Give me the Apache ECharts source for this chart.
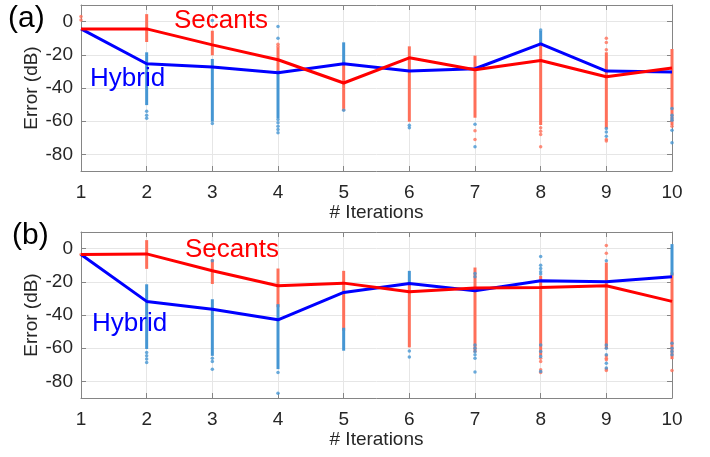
<!DOCTYPE html>
<html>
<head>
<meta charset="utf-8">
<script src="https://cdn.jsdelivr.net/npm/echarts@6/dist/echarts.min.js"></script>
<style>
  html, body { margin: 0; padding: 0; background: #ffffff; }
  #chart { width: 710px; height: 457px; }
</style>
</head>
<body>
<div id="chart"></div>
<script>
// Iteration counts on the horizontal axis
const iterations = [1, 2, 3, 4, 5, 6, 7, 8, 9, 10];

// ---- Panel (a) ----
// Mean error (dB) per iteration
const secantsMeanA = [-4.4, -4.4, -14.0, -23.0, -37.0, -21.8, -29.0, -23.4, -33.2, -28.0];
const hybridMeanA  = [-4.4, -25.4, -27.4, -30.8, -25.4, -29.8, -28.4, -13.4, -29.8, -30.4];
// Dense runs of individual trials: [iteration, upper dB, lower dB]
const secantsRunsA = [[2, 3.6, -11.4], [3, -6.4, -19.4], [4, -16.4, -30.0], [5, -24.4, -51.5],
  [6, -15.8, -59.4], [7, -21.4, -57.0], [8, -13.0, -61.4], [9, -19.4, -63.4], [10, -17.4, -61.4]];
const hybridRunsA = [[2, -19.4, -49.4], [3, -23.4, -59.4], [4, -30.4, -57.4], [5, -13.4, -24.4],
  [8, -6.4, -13.0]];
// Isolated trials: [iteration, dB]
const secantsDotsA = [[1, 3.0], [1, 1.0], [4, -13.6], [4, -15.0], [5, -53.0], [7, -65.8], [7, -71.0],
  [8, -64.0], [8, -66.0], [8, -68.0], [8, -75.4], [9, -10.0], [9, -12.6], [9, -16.9], [9, -71.0], [9, -72.0],
  [10, -63.0]];
const hybridDotsA = [[2, -54.0], [2, -56.4], [2, -58.2], [3, 0.6], [3, -61.4], [4, -3.0], [4, -10.0],
  [4, -59.0], [4, -61.0], [4, -63.0], [4, -65.0], [4, -67.0], [5, -53.4], [6, -62.4], [6, -64.0],
  [7, -61.8], [7, -75.4], [8, -5.0], [9, -64.4], [9, -66.5], [9, -69.0], [10, -52.4], [10, -56.4],
  [10, -58.0], [10, -59.4], [10, -65.4], [10, -73.0]];

// ---- Panel (b) ----
const secantsMeanB = [-3.6, -3.2, -13.3, -22.4, -20.8, -26.0, -23.8, -23.4, -22.4, -31.8];
const hybridMeanB  = [-3.6, -31.8, -36.5, -42.9, -26.4, -21.0, -25.4, -19.4, -20.0, -16.9];
const secantsRunsB = [[2, 4.2, -11.3], [3, -7.3, -20.4], [4, -12.9, -34.4], [5, -14.3, -48.6],
  [6, -21.0, -58.6], [7, -12.3, -61.7], [8, -17.3, -63.7], [9, -9.3, -59.6], [10, -15.3, -65.7]];
const hybridRunsB = [[2, -22.4, -59.6], [3, -31.4, -63.7], [4, -34.4, -71.7], [5, -48.6, -60.6],
  [6, -14.3, -21.0], [10, 1.8, -15.3]];
const secantsDotsB = [[1, -3.6], [8, -66.0], [8, -68.0], [8, -73.0], [8, -74.7], [9, 1.8], [9, -2.8],
  [9, -64.5], [9, -66.0], [9, -67.0], [9, -72.5], [9, -73.4], [10, -73.4]];
const hybridDotsB = [[2, -62.6], [2, -64.5], [2, -66.5], [2, -68.6], [3, -7.3], [3, -66.0], [3, -68.0],
  [3, -72.7], [4, -74.7], [4, -87.2], [6, -61.7], [6, -65.3], [7, -15.0], [7, -17.0], [7, -58.0],
  [7, -60.0], [7, -62.0], [7, -64.0], [7, -66.0], [7, -74.3], [8, -4.8], [8, -10.0], [8, -12.0],
  [8, -14.0], [8, -15.3], [8, -58.0], [8, -62.0], [8, -65.0], [8, -74.0], [9, -7.3], [9, -58.0],
  [9, -60.0], [9, -64.0], [9, -69.0], [9, -72.0], [10, -57.0], [10, -60.0], [10, -62.0], [10, -64.0]];

const TRIAL_BLUE = '#4596d3';
const TRIAL_RED = '#ff6f59';
const MEAN_BLUE = '#0000ff';
const MEAN_RED = '#ff0000';
const BOX = '#858585';
const TEXT = '#262626';
const FONT = '"Liberation Sans", Arial, sans-serif';

const grids = [
  { left: 81, top: 5, width: 591, height: 166 },
  { left: 81, top: 232, width: 591, height: 166 }
];

function bottomAxis(gridIndex) {
  return {
    type: 'value', gridIndex, min: 1, max: 10, interval: 1, position: 'bottom',
    axisLine: { show: true, onZero: false, lineStyle: { color: BOX, width: 1 } },
    axisTick: { show: true, inside: true, length: 5, lineStyle: { color: BOX } },
    axisLabel: { color: TEXT, fontSize: 19, fontFamily: FONT, margin: 12 },
    splitLine: { show: true, lineStyle: { color: '#e6e6e6', width: 1 } }
  };
}
function topAxis(gridIndex) {
  return {
    type: 'value', gridIndex, min: 1, max: 10, interval: 1, position: 'top',
    axisLine: { show: true, onZero: false, lineStyle: { color: BOX, width: 1 } },
    axisTick: { show: true, inside: true, length: 5, lineStyle: { color: BOX } },
    axisLabel: { show: false }, splitLine: { show: false }
  };
}
function leftAxis(gridIndex) {
  return {
    type: 'value', gridIndex, min: -90, max: 10, splitNumber: 5, position: 'left',
    axisLine: { show: true, onZero: false, lineStyle: { color: BOX, width: 1 } },
    axisTick: { show: true, inside: true, length: 5, lineStyle: { color: BOX } },
    axisLabel: {
      color: TEXT, fontSize: 19, fontFamily: FONT, margin: 8,
      formatter: v => (v % 20 === 0 ? String(v) : '')
    },
    splitLine: { show: true, lineStyle: { color: '#e6e6e6', width: 1 } }
  };
}
function rightAxis(gridIndex) {
  return {
    type: 'value', gridIndex, min: -90, max: 10, splitNumber: 5, position: 'right',
    axisLine: { show: true, onZero: false, lineStyle: { color: BOX, width: 1 } },
    axisTick: { show: true, inside: true, length: 5, lineStyle: { color: BOX } },
    axisLabel: { show: false }, splitLine: { show: false }
  };
}

// Vertical stripe drawn between two error levels at one iteration
function runRenderer(color) {
  return function (params, api) {
    const top = api.coord([api.value(0), api.value(1)]);
    const bot = api.coord([api.value(0), api.value(2)]);
    return {
      type: 'rect',
      shape: { x: top[0] - 1.5, y: top[1] - 1.5, width: 3, height: bot[1] - top[1] + 3 },
      style: { fill: color }
    };
  };
}

function panelSeries(axisIdx, secRuns, secDots, hybRuns, hybDots, hybMean, secMean) {
  const ax = { xAxisIndex: axisIdx * 2, yAxisIndex: axisIdx * 2 };
  return [
    Object.assign({ type: 'custom', renderItem: runRenderer(TRIAL_RED), data: secRuns, silent: true }, ax),
    Object.assign({ type: 'scatter', data: secDots, symbolSize: 3.5, itemStyle: { color: TRIAL_RED }, silent: true }, ax),
    Object.assign({ type: 'custom', renderItem: runRenderer(TRIAL_BLUE), data: hybRuns, silent: true }, ax),
    Object.assign({ type: 'scatter', data: hybDots, symbolSize: 3.5, itemStyle: { color: TRIAL_BLUE }, silent: true }, ax),
    Object.assign({ type: 'line', data: iterations.map((it, i) => [it, hybMean[i]]), showSymbol: false,
      lineStyle: { color: MEAN_BLUE, width: 3 }, itemStyle: { color: MEAN_BLUE }, silent: true, animation: false }, ax),
    Object.assign({ type: 'line', data: iterations.map((it, i) => [it, secMean[i]]), showSymbol: false,
      lineStyle: { color: MEAN_RED, width: 3 }, itemStyle: { color: MEAN_RED }, silent: true, animation: false }, ax)
  ];
}

function label(text, x, y, size, color, align) {
  return {
    type: 'text', x, y, z: 100,
    style: { text, fill: color, fontSize: size, fontFamily: FONT, align: align || 'left', verticalAlign: 'middle' }
  };
}

const chart = echarts.init(document.getElementById('chart'), null, { renderer: 'canvas' });
chart.setOption({
  animation: false,
  backgroundColor: '#ffffff',
  grid: grids,
  xAxis: [bottomAxis(0), topAxis(0), bottomAxis(1), topAxis(1)],
  yAxis: [leftAxis(0), rightAxis(0), leftAxis(1), rightAxis(1)],
  series: [
    ...panelSeries(0, secantsRunsA, secantsDotsA, hybridRunsA, hybridDotsA, hybridMeanA, secantsMeanA),
    ...panelSeries(1, secantsRunsB, secantsDotsB, hybridRunsB, hybridDotsB, hybridMeanB, secantsMeanB)
  ],
  graphic: [
    label('(a)', 8, 19, 30, '#000000'),
    label('(b)', 12, 236, 30, '#000000'),
    label('Secants', 174, 21, 26, MEAN_RED),
    label('Hybrid', 90, 79, 26, MEAN_BLUE),
    label('Secants', 185, 250, 26, MEAN_RED),
    label('Hybrid', 92, 324, 26, MEAN_BLUE),
    label('# Iterations', 376.5, 213, 19, TEXT, 'center'),
    label('# Iterations', 376.5, 440, 19, TEXT, 'center'),
    { type: 'text', x: 32, y: 88, rotation: Math.PI / 2, z: 100,
      style: { text: 'Error (dB)', fill: TEXT, fontSize: 19, fontFamily: FONT, align: 'center', verticalAlign: 'middle' } },
    { type: 'text', x: 32, y: 315, rotation: Math.PI / 2, z: 100,
      style: { text: 'Error (dB)', fill: TEXT, fontSize: 19, fontFamily: FONT, align: 'center', verticalAlign: 'middle' } }
  ]
});
</script>
</body>
</html>
